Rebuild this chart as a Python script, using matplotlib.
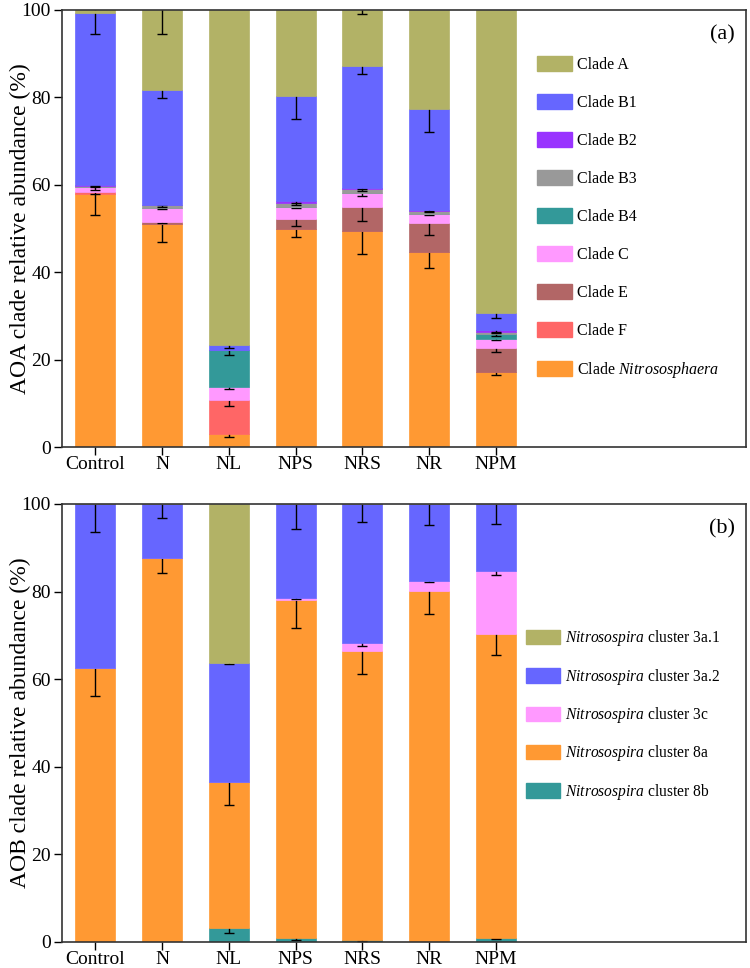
import matplotlib
matplotlib.use("Agg")
import matplotlib.pyplot as plt
from matplotlib.patches import Patch

plt.rcParams['font.family'] = ['Liberation Serif', 'DejaVu Serif']
plt.rcParams['mathtext.fontset'] = 'custom'
plt.rcParams['mathtext.rm'] = 'Liberation Serif'
plt.rcParams['mathtext.it'] = 'Liberation Serif:italic'

treatments = ['Control', 'N', 'NL', 'NPS', 'NRS', 'NR', 'NPM']

# AOA clades, stacked from bottom to top
nitrososphaera = [58.0, 51.0, 3.1, 49.8, 49.4, 44.6, 17.3]
nitrososphaera_err = [4.8, 4.0, 0.7, 1.7, 5.1, 3.7, 0.8]
clade_f = [0.3, 0.0, 7.7, 0.0, 0.0, 0.0, 0.0]
clade_f_err = [0.3, 0.0, 1.4, 0.0, 0.0, 0.0, 0.0]
clade_e = [0.1, 0.5, 0.0, 2.3, 5.5, 6.7, 5.3]
clade_e_err = [0.0, 0.3, 0.0, 1.4, 3.1, 2.8, 0.8]
clade_c = [1.0, 3.3, 3.0, 2.9, 3.2, 2.1, 2.2]
clade_c_err = [0.5, 0.4, 0.4, 0.4, 0.6, 0.3, 0.3]
clade_b4 = [0.0, 0.0, 8.5, 0.0, 0.0, 0.0, 1.0]
clade_b4_err = [0.0, 0.0, 1.2, 0.0, 0.0, 0.0, 0.3]
clade_b3 = [0.4, 0.5, 0.0, 0.8, 0.9, 0.7, 0.45]
clade_b3_err = [0.3, 0.3, 0.0, 0.3, 0.3, 0.3, 0.2]
clade_b2 = [0.1, 0.2, 0.0, 0.4, 0.3, 0.2, 0.45]
clade_b2_err = [0.1, 0.2, 0.0, 0.3, 0.3, 0.3, 0.3]
clade_b1 = [39.3, 26.2, 1.0, 24.1, 28.0, 23.0, 4.1]
clade_b1_err = [4.6, 1.9, 0.6, 5.2, 2.0, 5.1, 1.3]
clade_a = [0.8, 18.3, 76.7, 19.7, 12.7, 22.7, 69.2]
clade_a_err = [0.0, 5.6, 0.0, 0.0, 1.0, 0.0, 0.0]

# AOB clusters, stacked from bottom to top
cl_8b = [0.0, 0.0, 3.1, 0.8, 0.4, 0.0, 0.8]
cl_8b_err = [0.0, 0.0, 1.0, 0.3, 0.2, 0.0, 0.2]
cl_8a = [62.5, 87.6, 33.4, 77.2, 66.0, 80.1, 69.6]
cl_8a_err = [6.3, 3.4, 5.2, 6.3, 5.2, 5.2, 4.8]
cl_3c = [0.0, 0.0, 0.0, 0.5, 1.9, 2.3, 14.4]
cl_3c_err = [0.0, 0.0, 0.0, 0.3, 0.7, 0.3, 1.1]
cl_3a2 = [37.5, 12.4, 27.2, 21.5, 31.7, 17.6, 15.2]
cl_3a2_err = [6.5, 3.2, 0.2, 5.7, 4.2, 4.9, 4.5]
cl_3a1 = [0.0, 0.0, 36.3, 0.0, 0.0, 0.0, 0.0]
cl_3a1_err = [0.0, 0.0, 0.0, 0.0, 0.0, 0.0, 0.0]

aoa_series = [
    ("Clade $\\it{Nitrososphaera}$", nitrososphaera, nitrososphaera_err, '#FF9933'),
    ("Clade F", clade_f, clade_f_err, '#FF6666'),
    ("Clade E", clade_e, clade_e_err, '#B26666'),
    ("Clade C", clade_c, clade_c_err, '#FF99FF'),
    ("Clade B4", clade_b4, clade_b4_err, '#339999'),
    ("Clade B3", clade_b3, clade_b3_err, '#999999'),
    ("Clade B2", clade_b2, clade_b2_err, '#9933FF'),
    ("Clade B1", clade_b1, clade_b1_err, '#6666FF'),
    ("Clade A", clade_a, clade_a_err, '#B2B266'),
]

aob_series = [
    ("$\\it{Nitrosospira}$ cluster 8b", cl_8b, cl_8b_err, '#339999'),
    ("$\\it{Nitrosospira}$ cluster 8a", cl_8a, cl_8a_err, '#FF9933'),
    ("$\\it{Nitrosospira}$ cluster 3c", cl_3c, cl_3c_err, '#FF99FF'),
    ("$\\it{Nitrosospira}$ cluster 3a.2", cl_3a2, cl_3a2_err, '#6666FF'),
    ("$\\it{Nitrosospira}$ cluster 3a.1", cl_3a1, cl_3a1_err, '#B2B266'),
]


def stacked(ax, series, ylabel, tag, leg_anchor, leg_size, leg_space):
    x = list(range(len(treatments)))
    bottom = [0.0] * len(treatments)
    handles = []
    for i, (name, vals, errs, color) in enumerate(series):
        ax.bar(x, vals, 0.6, bottom=bottom, color=color, edgecolor=color,
               linewidth=0.5, zorder=2 + 2 * i)
        tops = [b + v for b, v in zip(bottom, vals)]
        # only draw bars that carry an error; the next stacked bar hides the upper half
        xs = [xi for xi, e in zip(x, errs) if e > 0]
        ys = [t for t, e in zip(tops, errs) if e > 0]
        es = [e for e in errs if e > 0]
        if xs:
            ax.errorbar(xs, ys, yerr=es, fmt='none', ecolor='black', elinewidth=1,
                        capsize=3.5, capthick=1, zorder=3 + 2 * i)
        bottom = tops
        handles.append(Patch(facecolor=color, edgecolor=color, label=name))

    ax.set_xlim(-0.5, 9.75)
    ax.set_ylim(0, 100)
    ax.set_xticks(x)
    ax.set_xticklabels(treatments)
    ax.set_yticks([0, 20, 40, 60, 80, 100])
    ax.tick_params(axis='both', labelsize=14, direction='out', length=6, width=1)
    ax.tick_params(axis='x', pad=0.5)
    ax.tick_params(axis='y', pad=2)
    ax.set_ylabel(ylabel, fontsize=17)
    ax.yaxis.set_label_coords(-0.046, 0.5)
    for sp in ax.spines.values():
        sp.set_zorder(100)
        sp.set_linewidth(1.2)
        sp.set_color('#333333')

    ax.text(0.965, 0.943, tag, transform=ax.transAxes, fontsize=16,
            ha='center', va='center', zorder=101)
    ax.legend(handles=handles[::-1], loc='upper left', bbox_to_anchor=leg_anchor,
              frameon=False, fontsize=leg_size, handlelength=2.2, handleheight=1.05,
              labelspacing=leg_space, handletextpad=0.3, borderpad=0, borderaxespad=0)


fig = plt.figure(figsize=(7.5, 9.68), dpi=100)
ax1 = fig.add_axes([0.0827, 0.538, 0.912, 0.4517])
ax2 = fig.add_axes([0.0827, 0.0269, 0.912, 0.4525])

stacked(ax1, aoa_series, 'AOA clade relative abundance (%)', '(a)', (0.694, 0.894), 11.5, 1.32)
stacked(ax2, aob_series, 'AOB clade relative abundance (%)', '(b)', (0.678, 0.716), 11.2, 1.18)

fig.savefig('out.png', dpi=100)
